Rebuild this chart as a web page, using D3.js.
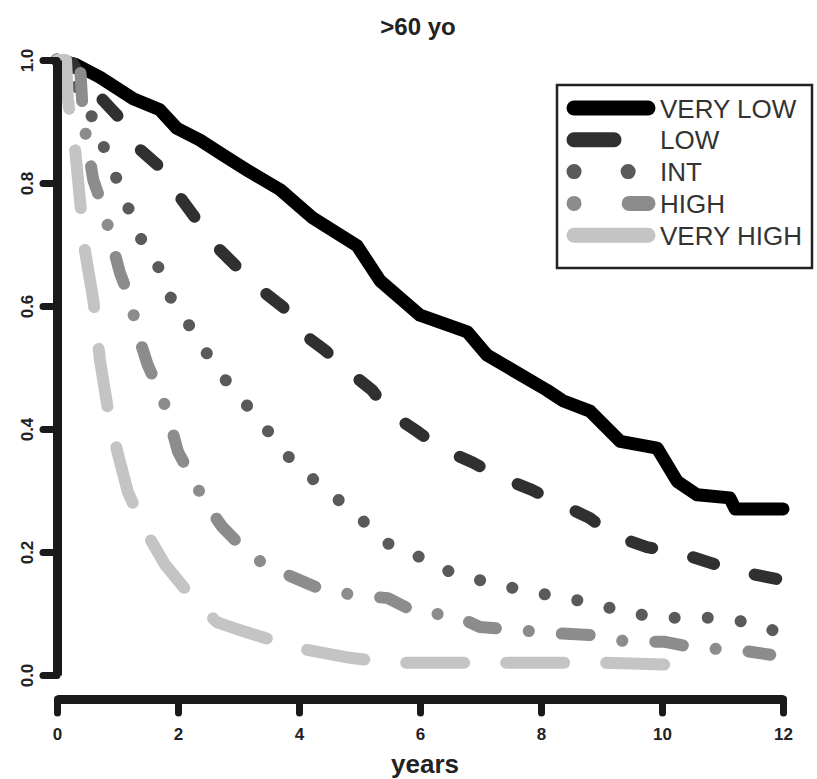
<!DOCTYPE html>
<html lang="en">
<head>
  <meta charset="UTF-8">
  <title>>60 yo</title>
  <script src="https://d3js.org/d3.v7.min.js"></script>
  <style>
    body { margin: 0; background: #fff; }
    text { font-family: "Liberation Sans", Arial, sans-serif; }
  </style>
</head>
<body>
<div class="main"></div>
<script>
  // risk groups, in legend order
  const groups = ["VERY LOW", "LOW", "INT", "HIGH", "VERY HIGH"];
  const xTicks = [0, 2, 4, 6, 8, 10, 12];
  const yTicks = [0, 0.2, 0.4, 0.6, 0.8, 1.0];

  // survival curves (years, survival)
  const veryLowYears = [0, 0.30, 0.71, 1.26, 1.70, 1.98, 2.36, 2.77, 3.19, 3.69, 4.23, 4.96, 5.34, 6.00, 6.78, 7.11, 8.10, 8.36, 8.81, 9.31, 9.92, 10.25, 10.58, 11.12, 11.21, 12.0];
  const veryLowSurv  = [1.0, 0.993, 0.972, 0.937, 0.919, 0.889, 0.870, 0.844, 0.818, 0.789, 0.743, 0.698, 0.641, 0.585, 0.558, 0.520, 0.463, 0.446, 0.429, 0.380, 0.369, 0.315, 0.293, 0.288, 0.270, 0.270];

  const lowYears = [0, 0.26, 0.43, 0.71, 1.07, 1.32, 1.70, 1.98, 2.31, 2.58, 2.98, 3.31, 3.74, 3.98, 4.43, 4.79, 5.21, 5.50, 5.97, 6.33, 6.88, 7.32, 7.85, 8.28, 8.81, 9.17, 9.75, 10.30, 10.91, 11.40, 12.0];
  const lowSurv  = [1.0, 0.995, 0.963, 0.940, 0.902, 0.859, 0.826, 0.784, 0.740, 0.702, 0.663, 0.631, 0.598, 0.561, 0.528, 0.496, 0.463, 0.426, 0.395, 0.369, 0.345, 0.322, 0.301, 0.280, 0.255, 0.228, 0.208, 0.198, 0.179, 0.166, 0.154];

  const intYears = [0, 0.30, 0.55, 0.76, 0.96, 1.16, 1.37, 1.65, 1.83, 2.13, 2.41, 2.69, 3.02, 3.34, 3.65, 3.97, 4.40, 4.79, 5.17, 5.54, 6.05, 6.53, 7.11, 7.70, 8.28, 8.86, 9.42, 10.08, 10.79, 11.42, 11.98];
  const intSurv  = [1.0, 0.96, 0.914, 0.862, 0.813, 0.764, 0.712, 0.670, 0.621, 0.577, 0.533, 0.491, 0.452, 0.415, 0.376, 0.338, 0.306, 0.273, 0.241, 0.208, 0.190, 0.166, 0.151, 0.138, 0.127, 0.117, 0.101, 0.093, 0.093, 0.086, 0.068];

  const highYears = [0, 0.38, 0.43, 0.51, 0.60, 0.79, 0.91, 1.04, 1.21, 1.34, 1.50, 1.74, 1.87, 2.00, 2.25, 2.48, 2.73, 3.11, 3.44, 3.90, 4.40, 4.93, 5.47, 5.95, 6.55, 6.99, 7.62, 8.20, 8.81, 9.44, 10.05, 10.55, 11.24, 11.79];
  const highSurv  = [1.0, 0.995, 0.907, 0.857, 0.805, 0.751, 0.702, 0.654, 0.610, 0.553, 0.504, 0.452, 0.410, 0.363, 0.317, 0.276, 0.241, 0.203, 0.179, 0.159, 0.138, 0.130, 0.125, 0.101, 0.098, 0.078, 0.073, 0.068, 0.065, 0.054, 0.054, 0.044, 0.041, 0.033];

  const veryHighYears = [0, 0.15, 0.18, 0.30, 0.38, 0.46, 0.60, 0.71, 0.83, 0.99, 1.17, 1.45, 1.79, 2.20, 2.64, 3.02, 3.97, 4.84, 5.50, 7.27, 9.02, 10.35, 10.35];
  const veryHighSurv  = [1.0, 1.0, 0.935, 0.854, 0.772, 0.691, 0.610, 0.512, 0.439, 0.366, 0.298, 0.236, 0.179, 0.130, 0.086, 0.073, 0.044, 0.028, 0.020, 0.020, 0.020, 0.016, 0.005];

  const seriesYears = [veryLowYears, lowYears, intYears, highYears, veryHighYears];
  const seriesSurv = [veryLowSurv, lowSurv, intSurv, highSurv, veryHighSurv];

  // line styles (R lty 1..5 with a heavy lwd)
  const colors = ["#000000", "#303030", "#5a5a5a", "#8c8c8c", "#c4c4c4"];
  const widths = [13, 12, 12, 12, 12];
  const dashes = [null, "22,42", "0.1,33", "0.1,33,28,33", "58,42"];
  const legendDashes = [null, "40,200", "0.1,54", "0.1,55,22,200", null];

  const width = 817, height = 779;

  const svg = d3.select(".main")
    .append("svg")
    .attr("width", width)
    .attr("height", height)
    .style("display", "block");

  const xScale = d3.scaleLinear().domain([0, 12]).range([57, 783]);
  const yScale = d3.scaleLinear().domain([0, 1]).range([675, 60]);

  // curves
  const line = d3.line()
    .x(d => xScale(d[0]))
    .y(d => yScale(d[1]));

  const curveG = svg.append("g");
  groups.forEach((g, i) => {
    const pts = seriesYears[i].map((t, j) => [t, seriesSurv[i][j]]);
    curveG.append("path")
      .datum(pts)
      .attr("d", line)
      .attr("fill", "none")
      .attr("stroke", colors[i])
      .attr("stroke-width", widths[i])
      .attr("stroke-linecap", "round")
      .attr("stroke-linejoin", "round")
      .attr("stroke-dasharray", dashes[i]);
  });

  // axes
  let yAxis = d3.axisLeft(yScale)
    .tickValues(yTicks)
    .tickFormat(d3.format(".1f"))
    .tickSize(14)
    .tickSizeOuter(0);

  let xAxis = d3.axisBottom(xScale)
    .tickValues(xTicks)
    .tickSize(14)
    .tickSizeOuter(0);

  function styleAxis(g) {
    g.select(".domain").attr("stroke", "#1a1a1a").attr("stroke-width", 9);
    g.selectAll(".tick line").attr("stroke", "#1a1a1a").attr("stroke-width", 7).attr("stroke-linecap", "round");
    g.selectAll(".tick text")
      .attr("fill", "#222")
      .style("font-size", "17px")
      .style("font-weight", "bold")
      .style("font-family", "'Liberation Sans', Arial, sans-serif");
  }

  const yG = svg.append("g").attr("transform", "translate(57,0)").call(yAxis).call(styleAxis);
  yG.selectAll(".tick text")
    .attr("transform", "rotate(-90)")
    .attr("x", 0)
    .attr("y", -24)
    .attr("dy", null)
    .attr("text-anchor", "middle");

  const xG = svg.append("g").attr("transform", "translate(0,699)").call(xAxis).call(styleAxis);
  xG.selectAll(".tick text").attr("y", 41).attr("dy", null);

  // titles
  svg.append("text")
    .attr("x", 418).attr("y", 35)
    .attr("text-anchor", "middle")
    .style("font-size", "24px").style("font-weight", "bold")
    .attr("fill", "#222")
    .text(">60 yo");

  svg.append("text")
    .attr("x", 425).attr("y", 773)
    .attr("text-anchor", "middle")
    .style("font-size", "26px").style("font-weight", "bold")
    .attr("fill", "#222")
    .text("years");

  // legend
  const legX = 557, legY = 85, legW = 255, legH = 183;
  const legG = svg.append("g");
  legG.append("rect")
    .attr("x", legX).attr("y", legY)
    .attr("width", legW).attr("height", legH)
    .attr("fill", "#fff")
    .attr("stroke", "#222")
    .attr("stroke-width", 2.5);

  groups.forEach((g, i) => {
    const cy = legY + 23 + i * 31.8;
    legG.append("line")
      .attr("x1", legX + 17).attr("x2", legX + 91)
      .attr("y1", cy).attr("y2", cy)
      .attr("stroke", colors[i])
      .attr("stroke-width", 15)
      .attr("stroke-linecap", "round")
      .attr("stroke-dasharray", legendDashes[i]);
    legG.append("text")
      .attr("x", legX + 103).attr("y", cy + 9.5)
      .style("font-size", "26px")
      .attr("fill", "#333")
      .text(g);
  });
</script>
</body>
</html>
